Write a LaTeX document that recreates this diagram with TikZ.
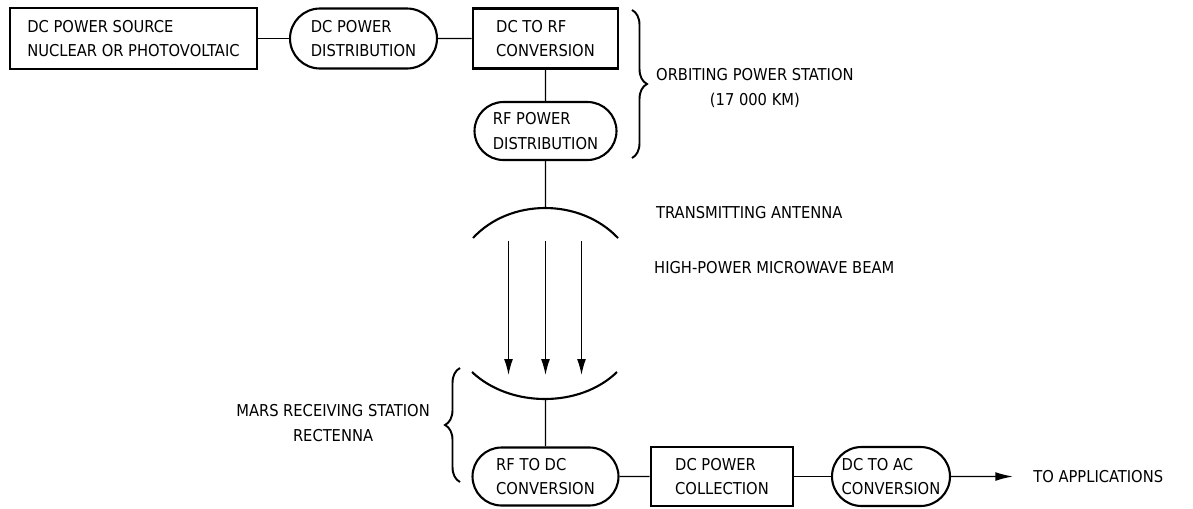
\documentclass[tikz,border=0pt]{standalone}
\usepackage{fontspec}
\setmainfont{DejaVu Sans Condensed}
\usetikzlibrary{shapes.misc,arrows.meta,decorations.pathreplacing}
\begin{document}
\begin{tikzpicture}[x=0.02cm, y=-0.02cm, font=\fontsize{9.3}{14}\selectfont,
    sqbox/.style={draw, line width=1.6pt, align=left, inner sep=0pt},
    pill/.style={draw, line width=1.2pt, rounded rectangle, align=left, inner sep=0pt},
    link/.style={line width=0.8pt},
    beam/.style={line width=0.7pt, -{Latex[length=9pt, width=5pt]}}]
  \useasboundingbox (0,0) rectangle (1193,508);
  % 轨道电站
  \node[sqbox, minimum width=4.94cm, minimum height=1.22cm] (src) at (133.5,38.5) {DC POWER SOURCE\\NUCLEAR OR PHOTOVOLTAIC};
  \node[pill, minimum width=2.94cm, minimum height=1.2cm] (pdist) at (363.5,38.5) {DC POWER\\DISTRIBUTION};
  \node[sqbox, minimum width=2.9cm, minimum height=1.2cm] (conv) at (545.5,38.5) {DC TO RF\\CONVERSION};
  \node[pill, minimum width=2.84cm, minimum height=1.16cm] (rfdist) at (545.5,131) {RF POWER\\DISTRIBUTION};
  \draw[link] (src) -- (pdist);
  \draw[link] (pdist) -- (conv);
  \draw[link] (conv) -- (rfdist);
  % 右侧大括号
  \draw[line width=1.1pt, decorate, decoration={brace, amplitude=0.3cm}] (632,10) -- (632,158);
  \node[anchor=west, align=center] (orbit) at (650,88) {ORBITING POWER STATION\\(17 000 KM)};
  % 发射天线
  \coordinate (tx) at (545.5,208);
  \draw[line width=1.2pt] (473,238) .. controls (510,198) and (580,198) .. (618,238);
  \draw[link] (rfdist) -- (tx);
  \node[anchor=west] (txlabel) at (650,213) {TRANSMITTING ANTENNA};
  % 微波束
  \foreach \x in {508.5,545.5,581.5} {
      \draw[beam] (\x,241) -- (\x,375);
  }
  \node[anchor=west] (beamlabel) at (648,268) {HIGH-POWER MICROWAVE BEAM};
  % 接收天线
  \coordinate (rx) at (545.5,399);
  \draw[line width=1.2pt] (472,372) .. controls (510,408) and (580,408) .. (617,372);
  % 左侧大括号
  \draw[line width=1.1pt, decorate, decoration={brace, amplitude=0.3cm}] (460,482) -- (460,368);
  \node[anchor=east, align=center] (mars) at (436,423) {MARS RECEIVING STATION\\RECTENNA};
  % 火星接收站
  \node[pill, minimum width=2.92cm, minimum height=1.16cm] (rfdc) at (545.5,476.5) {RF TO DC\\CONVERSION};
  \node[sqbox, minimum width=2.84cm, minimum height=1.18cm] (coll) at (722,476.5) {DC POWER\\COLLECTION};
  \node[pill, minimum width=2.36cm, minimum height=1.18cm] (dcac) at (891,476.5) {DC TO AC\\CONVERSION};
  \node[anchor=west, inner xsep=0.4cm] (app) at (1013,476.5) {TO APPLICATIONS};
  \draw[link] (rx) -- (rfdc);
  \draw[link] (rfdc) -- (coll);
  \draw[link] (coll) -- (dcac);
  \draw[link, -{Latex[length=10pt, width=5pt]}] (dcac) -- (app);
\end{tikzpicture}
\end{document}
